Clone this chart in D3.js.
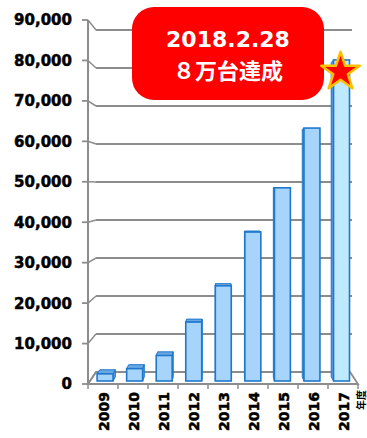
<!DOCTYPE html>
<html>
<head>
<meta charset="utf-8">
<style>
  body { margin: 0; background: #fff; }
  svg { display: block; }
  .ylab, .xlab { font-family: "DejaVu Sans", sans-serif; font-weight: bold; fill: #000; stroke: #000; stroke-width: 0.5; }
</style>
</head>
<body>
<svg id="chart" width="367" height="438"></svg>
<script src="https://d3js.org/d3.v7.min.js"></script>
<script>
// data
var years = ["2009", "2010", "2011", "2012", "2013", "2014", "2015", "2016", "2017"];
var units = [1800, 3100, 6400, 14800, 23900, 37400, 48500, 63500, 80600];
var yTicks = [0, 10000, 20000, 30000, 40000, 50000, 60000, 70000, 80000, 90000];
var calloutLines = ["2018.2.28", "８万台達成"];
var unitLabel = "年度";

var svg = d3.select("#chart");

// pseudo 3d: front plane and back wall, bars sit between
var xFront = d3.scaleBand().domain(years).range([88, 358]);
var xBack = d3.scaleBand().domain(years).range([96, 350]);
var yFront = d3.scaleLinear().domain([0, 90000]).range([384, 20]);
var yBack = d3.scaleLinear().domain([0, 90000]).range([372, 30]);

function pt(year, frac, v, t) {
    var xf = xFront(year) + frac * xFront.bandwidth();
    var xb = xBack(year) + frac * xBack.bandwidth();
    return [xf + (xb - xf) * t, yFront(v) + (yBack(v) - yFront(v)) * t];
}

var grid = "#8c8c8c";

// floor
svg.append("path")
    .attr("d", "M" + [88, yFront(0)] + "L" + [358, yFront(0)] + "L" + [350, yBack(0)] + "L" + [96, yBack(0)] + "Z")
    .attr("fill", "#fff").attr("stroke", grid).attr("stroke-width", 1.8);

// back wall gridlines + left wall diagonals
yTicks.forEach(function(v) {
    if (v > 0) {
        svg.append("line")
            .attr("x1", 96).attr("x2", 352)
            .attr("y1", yBack(v)).attr("y2", yBack(v))
            .attr("stroke", grid).attr("stroke-width", 1.8);
    }
    svg.append("line")
        .attr("x1", 88).attr("x2", 96)
        .attr("y1", yFront(v)).attr("y2", yBack(v))
        .attr("stroke", grid).attr("stroke-width", 1.5);
    svg.append("line")
        .attr("x1", 82).attr("x2", 88)
        .attr("y1", yFront(v)).attr("y2", yFront(v))
        .attr("stroke", grid).attr("stroke-width", 1.8);
});

// y axis line
svg.append("line")
    .attr("x1", 88).attr("x2", 88)
    .attr("y1", yFront(90000)).attr("y2", yFront(0))
    .attr("stroke", grid).attr("stroke-width", 2);

// x ticks
years.concat(["end"]).forEach(function(y, i) {
    var x = 88 + i * xFront.bandwidth();
    svg.append("line")
        .attr("x1", x).attr("x2", x)
        .attr("y1", yFront(0)).attr("y2", yFront(0) + 5)
        .attr("stroke", grid).attr("stroke-width", 1.5);
});

// y labels
svg.selectAll(".ylab").data(yTicks).enter().append("text")
    .attr("class", "ylab")
    .attr("x", 72)
    .attr("y", function(d) { return yFront(d); })
    .attr("dy", "0.36em")
    .attr("text-anchor", "end")
    .attr("font-size", 15)
    .text(function(d) { return d3.format(",")(d); });

// bars
var t1 = 0.25, t2 = 0.6, f1 = 0.24, f2 = 0.78;
var mid = 223;
years.forEach(function(yr, i) {
    var v = units[i];
    var g = svg.append("g");
    var face = i === years.length - 1 ? "#bfe9fc" : "#a6d4fb";
    var line = "#1f78cc";
    var fl0 = pt(yr, f1, 0, t1), fr0 = pt(yr, f2, 0, t1);
    var fl1 = pt(yr, f1, v, t1), fr1 = pt(yr, f2, v, t1);
    var bl1 = pt(yr, f1, v, t2), br1 = pt(yr, f2, v, t2);
    var bl0 = pt(yr, f1, 0, t2), br0 = pt(yr, f2, 0, t2);
    // top face
    if (bl1[1] < fl1[1]) {
        g.append("path")
            .attr("d", "M" + fl1 + "L" + fr1 + "L" + br1 + "L" + bl1 + "Z")
            .attr("fill", "#6aa8e4").attr("stroke", line).attr("stroke-width", 1);
    }
    // side face toward the centre
    var side = fr0[0] < mid ? [fr0, fr1, br1, br0] : [fl0, fl1, bl1, bl0];
    g.append("path")
        .attr("d", "M" + side.join("L") + "Z")
        .attr("fill", "#5d9ddc").attr("stroke", line).attr("stroke-width", 1);
    // front face
    g.append("rect")
        .attr("x", fl1[0]).attr("y", fl1[1])
        .attr("width", fr1[0] - fl1[0]).attr("height", fl0[1] - fl1[1])
        .attr("fill", face).attr("stroke", line).attr("stroke-width", 1.6);
});

// x labels
svg.selectAll(".xlab").data(years).enter().append("text")
    .attr("class", "xlab")
    .attr("font-size", 14)
    .attr("text-anchor", "end")
    .attr("transform", function(d) {
        return "translate(" + (xFront(d) + xFront.bandwidth() / 2 + 6) + ",392) rotate(-90)";
    })
    .text(function(d) { return d; });

svg.append("text")
    .attr("font-family", "'Noto Sans CJK JP', sans-serif")
    .attr("font-weight", "bold")
    .attr("font-size", 10)
    .attr("text-anchor", "end")
    .attr("transform", "translate(365,390) rotate(-90)")
    .text(unitLabel);

// callout
svg.append("rect")
    .attr("x", 132).attr("y", 7)
    .attr("width", 192).attr("height", 93)
    .attr("rx", 22)
    .attr("fill", "#ff0000");

svg.append("text")
    .attr("x", 228).attr("y", 47)
    .attr("text-anchor", "middle")
    .attr("font-family", "'DejaVu Sans', sans-serif")
    .attr("font-weight", "bold")
    .attr("font-size", 22)
    .attr("fill", "#fff")
    .text(calloutLines[0]);

svg.append("text")
    .attr("x", 228).attr("y", 79)
    .attr("text-anchor", "middle")
    .attr("font-family", "'Noto Sans CJK JP', sans-serif")
    .attr("font-weight", "bold")
    .attr("font-size", 22)
    .attr("fill", "#fff")
    .text(calloutLines[1]);

// star on the 2017 bar
var top2017 = pt("2017", 0.51, units[8], t1);
svg.append("path")
    .attr("d", d3.symbol().type(d3.symbolStar).size(460)())
    .attr("transform", "translate(" + (top2017[0] - 1) + "," + (top2017[1] + 12) + ")")
    .attr("fill", "#ff0000")
    .attr("stroke", "#ffc000")
    .attr("stroke-width", 2.5)
    .attr("stroke-linejoin", "round");
</script>
</body>
</html>
